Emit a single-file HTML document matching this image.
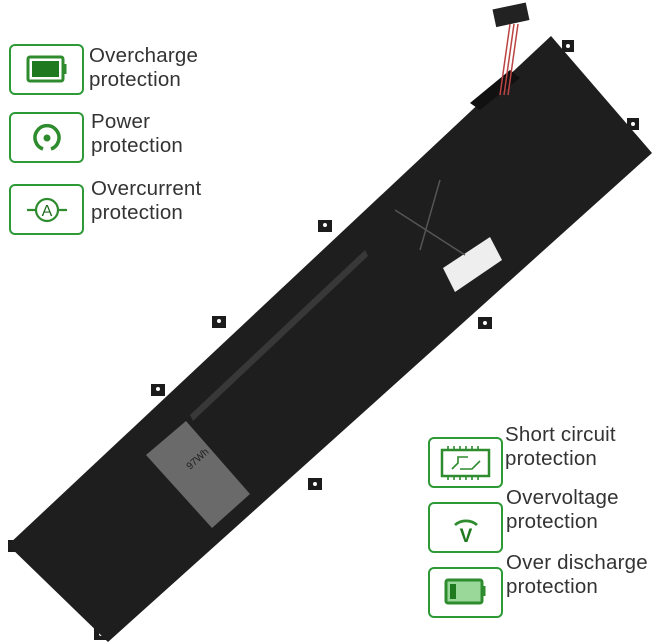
<!DOCTYPE html>
<html><head><style>
body{margin:0;width:660px;height:644px;background:#fff;position:relative;overflow:hidden;font-family:"Liberation Sans",sans-serif}
.b{position:absolute;width:71px;height:47px;border:2px solid #2e9a36;border-radius:6px;background:#fff}
.t{position:absolute;font-size:20.5px;line-height:24px;color:#333;letter-spacing:0.2px}
</style></head><body>
<svg width="660" height="644" style="position:absolute;left:0;top:0">
<g fill="#1c1c1c">
<rect x="318" y="220" width="14" height="12"/><rect x="212" y="316" width="14" height="12"/>
<rect x="151" y="384" width="14" height="12"/><rect x="627" y="118" width="12" height="12"/>
<rect x="562" y="40" width="12" height="12"/><rect x="478" y="317" width="14" height="12"/>
<rect x="308" y="478" width="14" height="12"/><rect x="8" y="540" width="14" height="12"/>
<rect x="94" y="628" width="14" height="12"/>
</g>
<g fill="#fff">
<circle cx="325" cy="225" r="2"/><circle cx="219" cy="321" r="2"/><circle cx="158" cy="389" r="2"/>
<circle cx="633" cy="124" r="2"/><circle cx="568" cy="46" r="2"/><circle cx="485" cy="323" r="2"/>
<circle cx="315" cy="484" r="2"/><circle cx="15" cy="546" r="2"/><circle cx="101" cy="634" r="2"/>
</g>
<polygon points="8,545 551,36 652,153 108,642" fill="#1e1e1e"/>
<polygon points="470,103 510,70 520,78 480,110" fill="#111"/>
<rect x="494" y="6" width="34" height="18" fill="#222" transform="rotate(-12 510 15)"/>
<path d="M510 24 L500 95 M514 24 L504 95 M518 24 L508 95" stroke="#b44" stroke-width="1.5"/>
<polygon points="146,455 186,421 250,494 212,528" fill="#6a6a6a"/>
<text x="190" y="470" font-size="10" fill="#222" transform="rotate(-42 190 470)">97Wh</text>
<polygon points="443,268 490,237 502,260 455,292" fill="#eee"/>
<polygon points="190,415 365,250 368,256 193,421" fill="#383838"/>
<path d="M395 210 L465 255 M440 180 L420 250" stroke="#555" stroke-width="1.5"/>
</svg>
<div class="b" style="left:9px;top:44px"><svg width="71" height="47"><rect x="17" y="11" width="35" height="24" rx="2" fill="none" stroke="#2e8b2e" stroke-width="3"/><rect x="21" y="15" width="27" height="16" fill="#1f7a1f"/><rect x="52" y="18" width="3.5" height="10" fill="#2e8b2e"/></svg></div>
<div class="t" style="left:89px;top:44px">Overcharge<br>protection</div>
<div class="b" style="left:9px;top:112px"><svg width="71" height="47"><path d="M32 35 A12 12 0 1 1 40 35" fill="none" stroke="#2e8b2e" stroke-width="3.5"/><circle cx="36" cy="24" r="3.5" fill="#2e8b2e"/></svg></div>
<div class="t" style="left:91px;top:110px">Power<br>protection</div>
<div class="b" style="left:9px;top:184px"><svg width="71" height="47"><circle cx="36" cy="24" r="11" fill="none" stroke="#2e8b2e" stroke-width="2.2"/><path d="M16 24H25M47 24H56" stroke="#2e8b2e" stroke-width="2.2"/><text x="36" y="30" font-size="16" text-anchor="middle" fill="#1f6b1f" font-family="Liberation Sans">A</text></svg></div>
<div class="t" style="left:91px;top:177px">Overcurrent<br>protection</div>
<div class="b" style="left:428px;top:437px"><svg width="71" height="47"><rect x="12" y="11" width="47" height="26" fill="none" stroke="#2e8b2e" stroke-width="2.5"/><path d="M18 7v4M24 7v4M30 7v4M36 7v4M42 7v4M48 7v4M18 37v4M24 37v4M30 37v4M36 37v4M42 37v4M48 37v4M22 30l6-6v-6h10M30 30h12l8-8" stroke="#2e8b2e" stroke-width="1.6" fill="none"/></svg></div>
<div class="t" style="left:505px;top:423px">Short circuit<br>protection</div>
<div class="b" style="left:428px;top:502px"><svg width="71" height="47"><path d="M25 21 A15 13 0 0 1 47 21" fill="none" stroke="#2e8b2e" stroke-width="2.8"/><text x="36" y="38" font-size="19" font-weight="bold" text-anchor="middle" fill="#1f7a1f" font-family="Liberation Sans">V</text></svg></div>
<div class="t" style="left:506px;top:486px">Overvoltage<br>protection</div>
<div class="b" style="left:428px;top:567px"><svg width="71" height="47"><rect x="16" y="11" width="36" height="23" rx="2" fill="#9ad89a" stroke="#2e8b2e" stroke-width="3"/><rect x="20" y="15" width="6" height="15" fill="#1f7a1f"/><rect x="52" y="17" width="3.5" height="10" fill="#2e8b2e"/></svg></div>
<div class="t" style="left:506px;top:551px">Over discharge<br>protection</div>
</body></html>
